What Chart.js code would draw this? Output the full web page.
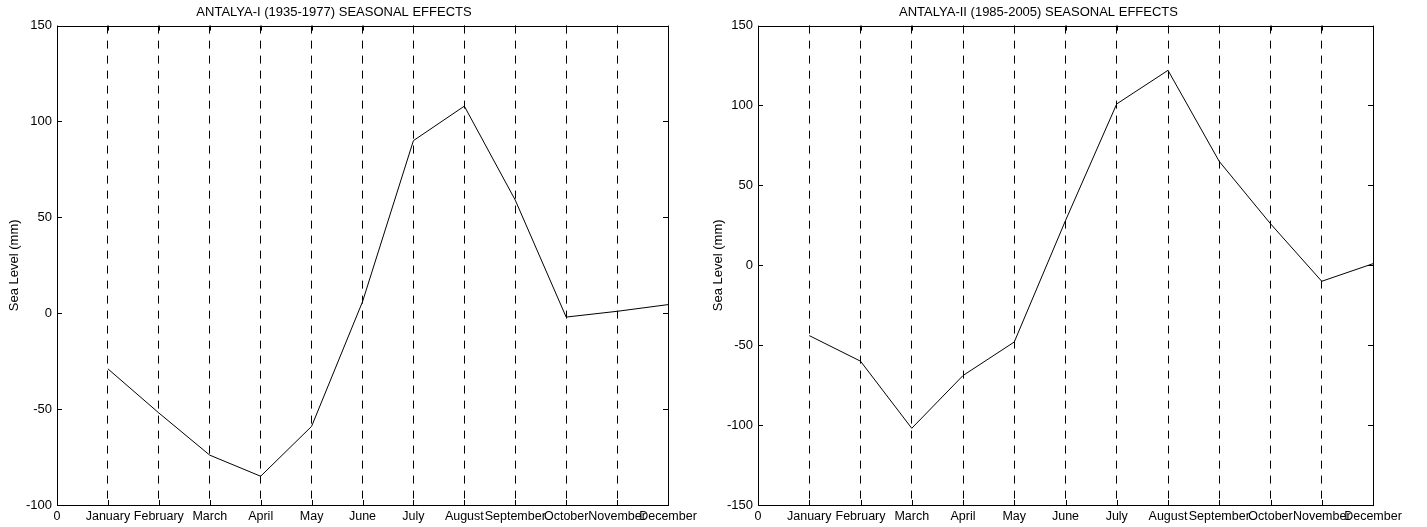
<!DOCTYPE html>
<html>
<head>
<meta charset="utf-8">
<script src="https://cdn.jsdelivr.net/npm/chart.js@4/dist/chart.umd.min.js"></script>
<style>
  body { margin: 0; background: #fff; }
  #wrap { position: relative; width: 1427px; height: 527px; overflow: hidden; }
  canvas { position: absolute; top: 0; }
</style>
</head>
<body>
<div id="wrap">
  <canvas id="chartOne" width="725" height="527" style="left:0px"></canvas>
  <canvas id="chartTwo" width="723" height="527" style="left:704px"></canvas>
</div>
<script>
const tickLabels = ['0', 'January', 'February', 'March', 'April', 'May', 'June',
  'July', 'August', 'September', 'October', 'November', 'December'];
const monthIndex = [1, 2, 3, 4, 5, 6, 7, 8, 9, 10, 11, 12];

// seasonal effects, mm
const antalyaOne = [-29, -52, -74, -85, -59, 6, 90, 108, 59, -2, 1, 4.5];
const antalyaTwo = [-44, -60, -102, -69, -48, 28, 101, 122, 65, 26, -10, 1];

const FONT = 'Liberation Sans, Arial, Helvetica, sans-serif';

// MATLAB style box with inward tick marks
const boxTicks = {
  id: 'boxTicks',
  afterDraw(chart) {
    const { ctx, chartArea: a, scales } = chart;
    ctx.save();
    ctx.strokeStyle = '#000';
    ctx.lineWidth = 1;
    ctx.beginPath();
    scales.y.ticks.forEach((t) => {
      const y = Math.round(scales.y.getPixelForValue(t.value)) + 0.5;
      ctx.moveTo(a.left, y); ctx.lineTo(a.left + 5, y);
      ctx.moveTo(a.right, y); ctx.lineTo(a.right - 5, y);
    });
    scales.x.ticks.forEach((t) => {
      const x = Math.round(scales.x.getPixelForValue(t.value)) + 0.5;
      ctx.moveTo(x, a.bottom); ctx.lineTo(x, a.bottom - 5);
      ctx.moveTo(x, a.top); ctx.lineTo(x, a.top + 5);
    });
    ctx.stroke();
    ctx.strokeRect(Math.round(a.left) + 0.5, Math.round(a.top) + 0.5,
      Math.round(a.right - a.left), Math.round(a.bottom - a.top));
    ctx.restore();
  },
};

function makeChart(el, title, values, yMin, yMax, axisWidth, padRight) {
  return new Chart(el, {
    type: 'line',
    data: {
      datasets: [{
        data: values.map((v, i) => ({ x: monthIndex[i], y: v })),
        borderColor: '#000',
        borderWidth: 1,
        pointRadius: 0,
        tension: 0,
        fill: false,
      }],
    },
    options: {
      responsive: false,
      animation: false,
      devicePixelRatio: 1,
      layout: { padding: { left: 0, right: padRight, top: 0, bottom: 0 } },
      plugins: {
        legend: { display: false },
        tooltip: { enabled: false },
        title: {
          display: true,
          text: title,
          color: '#000',
          font: { family: FONT, size: 13, weight: 'normal' },
          padding: { top: 5, bottom: 5 },
        },
      },
      scales: {
        x: {
          type: 'linear',
          min: 0,
          max: 12,
          afterFit(scale) { scale.height = 22; },
          ticks: {
            stepSize: 1,
            autoSkip: false,
            maxRotation: 0,
            padding: 4,
            color: '#000',
            font: { family: FONT, size: 12.5 },
            callback(value) { return tickLabels[value]; },
          },
          grid: {
            drawTicks: false,
            lineWidth: 1,
            color(c) {
              const v = c.tick ? c.tick.value : 0;
              return (v === 0 || v === 12) ? 'rgba(0,0,0,0)' : '#000';
            },
          },
          border: { display: false, dash: [8, 7] },
        },
        y: {
          min: yMin,
          max: yMax,
          afterFit(scale) { scale.width = axisWidth; },
          ticks: {
            stepSize: 50,
            padding: 5,
            color: '#000',
            font: { family: FONT, size: 13 },
          },
          grid: { display: false, drawTicks: false },
          border: { display: false },
          title: {
            display: true,
            text: 'Sea Level (mm)',
            color: '#000',
            font: { family: FONT, size: 13 },
            padding: { top: 7, bottom: 0 },
          },
        },
      },
    },
    plugins: [boxTicks],
  });
}

makeChart(document.getElementById('chartOne'), 'ANTALYA-I (1935-1977) SEASONAL EFFECTS',
  antalyaOne, -100, 150, 57, 57);
makeChart(document.getElementById('chartTwo'), 'ANTALYA-II (1985-2005) SEASONAL EFFECTS',
  antalyaTwo, -150, 150, 54, 54);
</script>
</body>
</html>
